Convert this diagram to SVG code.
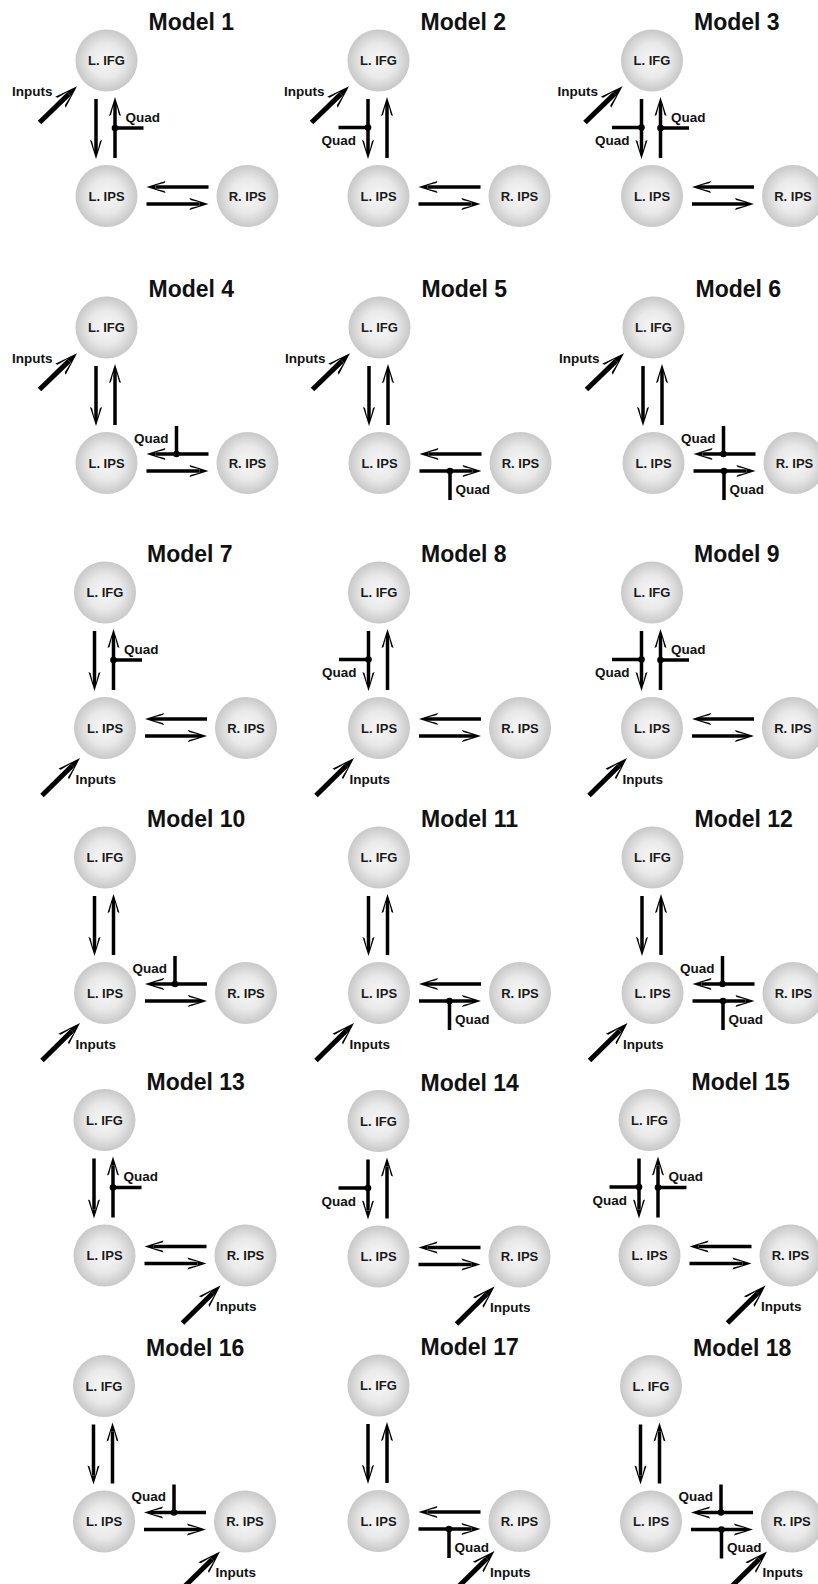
<svg xmlns="http://www.w3.org/2000/svg" width="818" height="1584" viewBox="0 0 818 1584">
<style>
  text{font-family:"Liberation Sans",Arial,sans-serif;font-weight:bold}
  .t{font-size:23px;fill:#111}
  .n circle{fill:url(#sphere)}
  .n text{font-size:13px;text-anchor:middle;fill:#1a1a1a}
  .lk line{stroke:#000;stroke-width:3.5;fill:none}
  .lk line.a{marker-end:url(#head)}
  .lk line.in{stroke-width:5;marker-end:url(#headIn)}
  .lk circle{fill:#000}
  .lk text{font-size:13.5px;fill:#111}
</style>
<defs>
  <radialGradient id="sphere" cx="50%" cy="50%" r="50%">
    <stop offset="0" stop-color="#f7f7f7"/>
    <stop offset="0.55" stop-color="#e9e9e9"/>
    <stop offset="1" stop-color="#c8c8c8"/>
  </radialGradient>
  <!-- barbed heads: the line stops at the ref point, the solid point carries on to the tip -->
  <marker id="head" viewBox="-11 -7 21 14" refX="0" refY="0" markerWidth="21" markerHeight="14" orient="auto" markerUnits="userSpaceOnUse">
    <path d="M9,0 L-10,-6 L-9,-4 L0,-1.75 L0,1.75 L-9,4 L-10,6 Z" fill="#000"/>
  </marker>
  <marker id="headIn" viewBox="-13 -9 25 18" refX="0" refY="0" markerWidth="25" markerHeight="18" orient="auto" markerUnits="userSpaceOnUse">
    <path d="M11,0 L-12,-7.5 L-11,-5.2 L0,-2.5 L0,2.5 L-11,5.2 L-12,7.5 Z" fill="#000"/>
  </marker>

  <!-- node shapes, origin at the circle centre -->
  <g id="ifg" class="n"><circle r="31"/><text y="4.5">L. IFG</text></g>
  <g id="lips" class="n"><circle r="31"/><text y="4.5">L. IPS</text></g>
  <g id="rips" class="n"><circle r="31"/><text y="4.5">R. IPS</text></g>

  <!-- the four reciprocal connections, origin at L. IFG centre -->
  <g id="core" class="lk">
    <line class="a" x1="-10.5" y1="38.5" x2="-10.5" y2="89.5"/>
    <line class="a" x1="8.5" y1="97.5" x2="8.5" y2="45.5"/>
    <line class="a" x1="102" y1="126.5" x2="49" y2="126.5"/>
    <line class="a" x1="40" y1="143.5" x2="93" y2="143.5"/>
  </g>

  <!-- driving inputs -->
  <g id="in-ifg" class="lk">
    <line class="in" x1="-67" y1="62" x2="-37.4" y2="33.4"/>
    <text x="-94.5" y="35.5">Inputs</text>
  </g>
  <g id="in-lips" class="lk">
    <line class="in" x1="-63" y1="203" x2="-32.8" y2="173.2"/>
    <text x="-29.5" y="191">Inputs</text>
  </g>
  <g id="in-rips" class="lk">
    <line class="in" x1="78" y1="203" x2="108.2" y2="173.2"/>
    <text x="111.5" y="191">Inputs</text>
  </g>

  <!-- quadratic modulators -->
  <g id="q-up" class="lk">
    <line x1="8.5" y1="67.5" x2="37" y2="67.5"/>
    <circle cx="8.5" cy="67.5" r="3.3"/>
    <text x="19" y="61">Quad</text>
  </g>
  <g id="q-down" class="lk">
    <line x1="-40" y1="67" x2="-10.5" y2="67"/>
    <circle cx="-10.5" cy="67" r="3.3"/>
    <text x="-57" y="84.5">Quad</text>
  </g>
  <g id="q-left" class="lk">
    <line x1="70" y1="98.5" x2="70" y2="126.5"/>
    <circle cx="70" cy="126.5" r="3.3"/>
    <text x="27.5" y="115.2">Quad</text>
  </g>
  <g id="q-right" class="lk">
    <line x1="70.5" y1="143.5" x2="70.5" y2="172.5"/>
    <circle cx="70.5" cy="143.5" r="3.3"/>
    <text x="76" y="166">Quad</text>
  </g>
</defs>

<!-- Row 1 -->
<g id="model-1" transform="translate(106.5 60.5)">
  <text class="t" x="42" y="-30.5">Model 1</text>
  <g id="m1-lifg"><use href="#ifg"/></g>
  <g id="m1-lips" transform="translate(0 135.5)"><use href="#lips"/></g>
  <g id="m1-rips" transform="translate(141 135.5)"><use href="#rips"/></g>
  <g id="m1-links"><use href="#core"/><use href="#in-ifg"/><use href="#q-up"/></g>
</g>
<g id="model-2" transform="translate(378.5 60.5)">
  <text class="t" x="42" y="-30.5">Model 2</text>
  <g id="m2-lifg"><use href="#ifg"/></g>
  <g id="m2-lips" transform="translate(0 135.5)"><use href="#lips"/></g>
  <g id="m2-rips" transform="translate(141 135.5)"><use href="#rips"/></g>
  <g id="m2-links"><use href="#core"/><use href="#in-ifg"/><use href="#q-down"/></g>
</g>
<g id="model-3" transform="translate(652 60.5)">
  <text class="t" x="42" y="-30.5">Model 3</text>
  <g id="m3-lifg"><use href="#ifg"/></g>
  <g id="m3-lips" transform="translate(0 135.5)"><use href="#lips"/></g>
  <g id="m3-rips" transform="translate(141 135.5)"><use href="#rips"/></g>
  <g id="m3-links"><use href="#core"/><use href="#in-ifg"/><use href="#q-up"/><use href="#q-down"/></g>
</g>

<!-- Row 2 -->
<g id="model-4" transform="translate(106.5 327.5)">
  <text class="t" x="42" y="-30.5">Model 4</text>
  <g id="m4-lifg"><use href="#ifg"/></g>
  <g id="m4-lips" transform="translate(0 135.5)"><use href="#lips"/></g>
  <g id="m4-rips" transform="translate(141 135.5)"><use href="#rips"/></g>
  <g id="m4-links"><use href="#core"/><use href="#in-ifg"/><use href="#q-left"/></g>
</g>
<g id="model-5" transform="translate(379.5 327.5)">
  <text class="t" x="42" y="-30.5">Model 5</text>
  <g id="m5-lifg"><use href="#ifg"/></g>
  <g id="m5-lips" transform="translate(0 135.5)"><use href="#lips"/></g>
  <g id="m5-rips" transform="translate(141 135.5)"><use href="#rips"/></g>
  <g id="m5-links"><use href="#core"/><use href="#in-ifg"/><use href="#q-right"/></g>
</g>
<g id="model-6" transform="translate(653.5 327.5)">
  <text class="t" x="42" y="-30.5">Model 6</text>
  <g id="m6-lifg"><use href="#ifg"/></g>
  <g id="m6-lips" transform="translate(0 135.5)"><use href="#lips"/></g>
  <g id="m6-rips" transform="translate(141 135.5)"><use href="#rips"/></g>
  <g id="m6-links"><use href="#core"/><use href="#in-ifg"/><use href="#q-left"/><use href="#q-right"/></g>
</g>

<!-- Row 3 -->
<g id="model-7" transform="translate(105 592.5)">
  <text class="t" x="42" y="-30.5">Model 7</text>
  <g id="m7-lifg"><use href="#ifg"/></g>
  <g id="m7-lips" transform="translate(0 135.5)"><use href="#lips"/></g>
  <g id="m7-rips" transform="translate(141 135.5)"><use href="#rips"/></g>
  <g id="m7-links"><use href="#core"/><use href="#in-lips"/><use href="#q-up"/></g>
</g>
<g id="model-8" transform="translate(379 592.5)">
  <text class="t" x="42" y="-30.5">Model 8</text>
  <g id="m8-lifg"><use href="#ifg"/></g>
  <g id="m8-lips" transform="translate(0 135.5)"><use href="#lips"/></g>
  <g id="m8-rips" transform="translate(141 135.5)"><use href="#rips"/></g>
  <g id="m8-links"><use href="#core"/><use href="#in-lips"/><use href="#q-down"/></g>
</g>
<g id="model-9" transform="translate(652 592.5)">
  <text class="t" x="42" y="-30.5">Model 9</text>
  <g id="m9-lifg"><use href="#ifg"/></g>
  <g id="m9-lips" transform="translate(0 135.5)"><use href="#lips"/></g>
  <g id="m9-rips" transform="translate(141 135.5)"><use href="#rips"/></g>
  <g id="m9-links"><use href="#core"/><use href="#in-lips"/><use href="#q-up"/><use href="#q-down"/></g>
</g>

<!-- Row 4 -->
<g id="model-10" transform="translate(105 857.5)">
  <text class="t" x="42" y="-30.5">Model 10</text>
  <g id="m10-lifg"><use href="#ifg"/></g>
  <g id="m10-lips" transform="translate(0 135.5)"><use href="#lips"/></g>
  <g id="m10-rips" transform="translate(141 135.5)"><use href="#rips"/></g>
  <g id="m10-links"><use href="#core"/><use href="#in-lips"/><use href="#q-left"/></g>
</g>
<g id="model-11" transform="translate(379 857.5)">
  <text class="t" x="42" y="-30.5">Model 11</text>
  <g id="m11-lifg"><use href="#ifg"/></g>
  <g id="m11-lips" transform="translate(0 135.5)"><use href="#lips"/></g>
  <g id="m11-rips" transform="translate(141 135.5)"><use href="#rips"/></g>
  <g id="m11-links"><use href="#core"/><use href="#in-lips"/><use href="#q-right"/></g>
</g>
<g id="model-12" transform="translate(652.5 857.5)">
  <text class="t" x="42" y="-30.5">Model 12</text>
  <g id="m12-lifg"><use href="#ifg"/></g>
  <g id="m12-lips" transform="translate(0 135.5)"><use href="#lips"/></g>
  <g id="m12-rips" transform="translate(141 135.5)"><use href="#rips"/></g>
  <g id="m12-links"><use href="#core"/><use href="#in-lips"/><use href="#q-left"/><use href="#q-right"/></g>
</g>

<!-- Row 5 -->
<g id="model-13" transform="translate(104.5 1120)">
  <text class="t" x="42" y="-30.5">Model 13</text>
  <g id="m13-lifg"><use href="#ifg"/></g>
  <g id="m13-lips" transform="translate(0 135.5)"><use href="#lips"/></g>
  <g id="m13-rips" transform="translate(141 135.5)"><use href="#rips"/></g>
  <g id="m13-links"><use href="#core"/><use href="#in-rips"/><use href="#q-up"/></g>
</g>
<g id="model-14" transform="translate(378.5 1121)">
  <text class="t" x="42" y="-30.5">Model 14</text>
  <g id="m14-lifg"><use href="#ifg"/></g>
  <g id="m14-lips" transform="translate(0 135.5)"><use href="#lips"/></g>
  <g id="m14-rips" transform="translate(141 135.5)"><use href="#rips"/></g>
  <g id="m14-links"><use href="#core"/><use href="#in-rips"/><use href="#q-down"/></g>
</g>
<g id="model-15" transform="translate(649.5 1120)">
  <text class="t" x="42" y="-30.5">Model 15</text>
  <g id="m15-lifg"><use href="#ifg"/></g>
  <g id="m15-lips" transform="translate(0 135.5)"><use href="#lips"/></g>
  <g id="m15-rips" transform="translate(141 135.5)"><use href="#rips"/></g>
  <g id="m15-links"><use href="#core"/><use href="#in-rips"/><use href="#q-up"/><use href="#q-down"/></g>
</g>

<!-- Row 6 -->
<g id="model-16" transform="translate(104 1386)">
  <text class="t" x="42" y="-30.5">Model 16</text>
  <g id="m16-lifg"><use href="#ifg"/></g>
  <g id="m16-lips" transform="translate(0 135.5)"><use href="#lips"/></g>
  <g id="m16-rips" transform="translate(141 135.5)"><use href="#rips"/></g>
  <g id="m16-links"><use href="#core"/><use href="#in-rips"/><use href="#q-left"/></g>
</g>
<g id="model-17" transform="translate(378.5 1385.5)">
  <text class="t" x="42" y="-30.5">Model 17</text>
  <g id="m17-lifg"><use href="#ifg"/></g>
  <g id="m17-lips" transform="translate(0 135.5)"><use href="#lips"/></g>
  <g id="m17-rips" transform="translate(141 135.5)"><use href="#rips"/></g>
  <g id="m17-links"><use href="#core"/><use href="#in-rips"/><use href="#q-right"/></g>
</g>
<g id="model-18" transform="translate(651 1386)">
  <text class="t" x="42" y="-30.5">Model 18</text>
  <g id="m18-lifg"><use href="#ifg"/></g>
  <g id="m18-lips" transform="translate(0 135.5)"><use href="#lips"/></g>
  <g id="m18-rips" transform="translate(141 135.5)"><use href="#rips"/></g>
  <g id="m18-links"><use href="#core"/><use href="#in-rips"/><use href="#q-left"/><use href="#q-right"/></g>
</g>
</svg>
